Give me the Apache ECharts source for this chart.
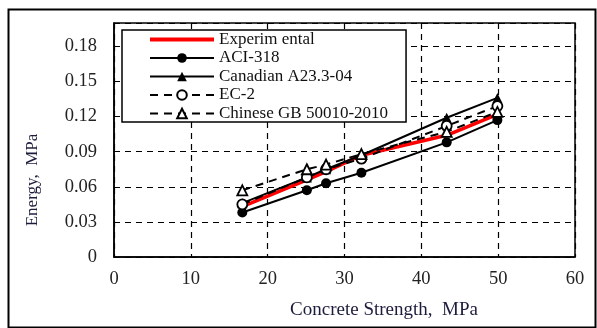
<!DOCTYPE html>
<html><head><meta charset="utf-8">
<script src="https://cdn.jsdelivr.net/npm/echarts@6/dist/echarts.min.js"></script>
<style>html,body{margin:0;padding:0;background:#fff}#c{width:597px;height:328px}</style>
</head><body><div id="c"></div>
<script>
const strength = [16.7, 25.1, 27.6, 32.2, 43.3, 49.9];
const experimental = [0.043, 0.066, 0.073, 0.087, 0.104, 0.122];
const aci318 = [0.038, 0.057, 0.063, 0.072, 0.098, 0.117];
const canadian = [0.046, 0.068, 0.075, 0.087, 0.119, 0.136];
const ec2 = [0.045, 0.068, 0.075, 0.084, 0.112, 0.129];
const chineseGB = [0.057, 0.075, 0.079, 0.088, 0.107, 0.124];
const seriesNames = ['Experim ental', 'ACI-318', 'Canadian A23.3-04', 'EC-2', 'Chinese GB 50010-2010'];
const xTitle = 'Concrete Strength,  MPa';
const yTitle = 'Energy,  MPa';

const pts = arr => strength.map((x, i) => [x, arr[i]]);
const font = 'Liberation Serif';
const chart = echarts.init(document.getElementById('c'), null, {renderer: 'canvas'});

function mk(name, data, opts) {
  return Object.assign({
    name, type: 'line', data: pts(data), smooth: false, animation: false,
    lineStyle: {color: '#000', width: 2},
    itemStyle: {color: '#000'},
    symbolSize: 10
  }, opts);
}

chart.setOption({
  animation: false,
  backgroundColor: '#fff',
  grid: {left: 114, right: 22, top: 23, bottom: 71, show: true, borderColor: '#000', borderWidth: 1.5},
  xAxis: {
    type: 'value', min: 0, max: 60, interval: 10,
    axisLine: {show: true, lineStyle: {color: '#000', width: 1.5}},
    axisTick: {show: false},
    axisLabel: {fontFamily: font, fontSize: 18.5, color: '#222', margin: 13},
    splitLine: {show: true, lineStyle: {color: '#000', type: [6, 5], width: 1.2}}
  },
  yAxis: {
    type: 'value', min: 0, max: 0.2, interval: 0.03,
    axisLine: {show: true, lineStyle: {color: '#000', width: 1.5}},
    axisTick: {show: false},
    axisLabel: {fontFamily: font, fontSize: 18.5, color: '#222', margin: 17,
      formatter: v => v > 0.19 ? '' : (v === 0 ? '0' : v.toFixed(2))},
    splitLine: {show: true, lineStyle: {color: '#000', type: [6, 5], width: 1.2}}
  },
  legend: {
    orient: 'vertical', left: 122, top: 30,
    backgroundColor: '#fff', borderColor: '#000', borderWidth: 1.5,
    padding: [1, 18, 0, 26], itemWidth: 64, itemHeight: 12, itemGap: 1.5,
    textStyle: {fontFamily: font, fontSize: 17, color: '#111', lineHeight: 17},
    lineStyle: {width: 2.2},
    data: [
      {name: seriesNames[0], itemStyle: {opacity: 0}, lineStyle: {width: 4, color: '#ff0000'}},
      seriesNames[1], seriesNames[2], seriesNames[3], seriesNames[4]
    ]
  },
  series: [
    mk(seriesNames[0], experimental, {symbol: 'none', lineStyle: {color: '#ff0000', width: 3.5}, itemStyle: {color: '#ff0000'}}),
    mk(seriesNames[1], aci318, {symbol: 'circle'}),
    mk(seriesNames[2], canadian, {symbol: 'triangle'}),
    mk(seriesNames[3], ec2, {symbol: 'circle', lineStyle: {color: '#000', width: 2, type: [8, 6]}, itemStyle: {color: '#fff', borderColor: '#000', borderWidth: 1.8}}),
    mk(seriesNames[4], chineseGB, {symbol: 'triangle', lineStyle: {color: '#000', width: 2, type: [8, 6]}, itemStyle: {color: '#fff', borderColor: '#000', borderWidth: 1.8}})
  ],
  graphic: [
    {type: 'rect', left: 6, top: 7, shape: {width: 587, height: 318}, style: {fill: 'none', stroke: '#000', lineWidth: 2}, z: -1, silent: true},
    {type: 'text', x: 384, y: 310, style: {text: xTitle, font: '19px "Liberation Serif"', fill: '#1c1c3c', align: 'center', verticalAlign: 'middle'}},
    {type: 'text', x: 33, y: 180, rotation: Math.PI / 2, style: {text: yTitle, font: '17px "Liberation Serif"', fill: '#1c1c3c', align: 'center', verticalAlign: 'middle'}}
  ]
});
</script></body></html>
